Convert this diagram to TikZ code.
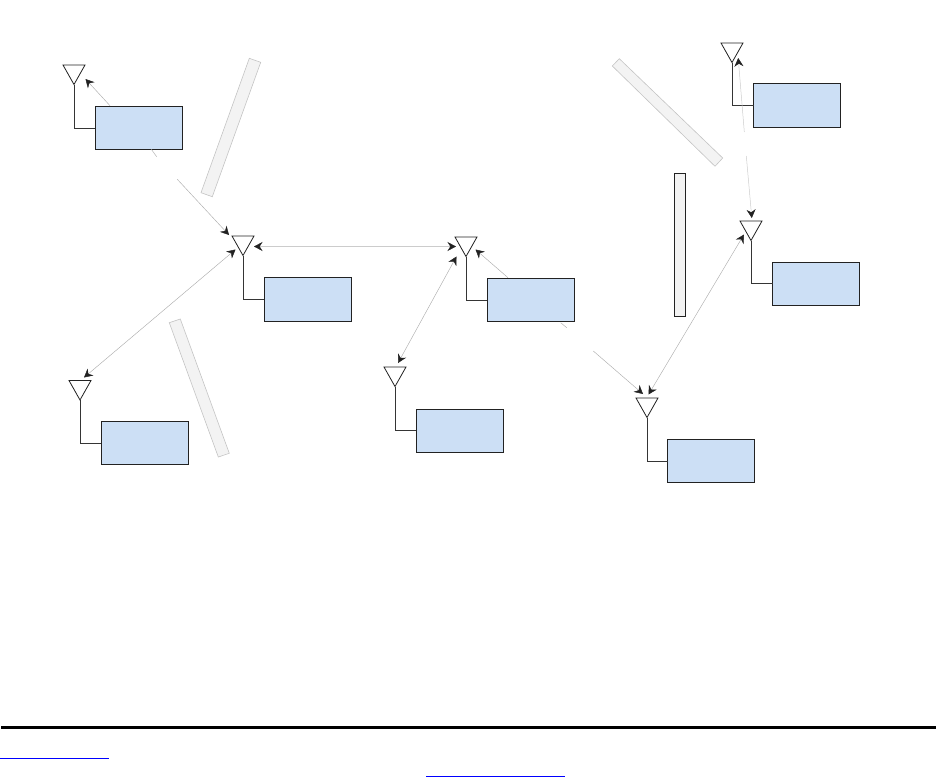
\documentclass[tikz,border=0pt]{standalone}
\usetikzlibrary{arrows.meta}
\definecolor{boxfill}{HTML}{CCDFF5}
\definecolor{wallfill}{HTML}{F3F3F3}
\definecolor{wallline}{HTML}{C4C4C4}
\definecolor{inkline}{HTML}{222222}
\definecolor{linkblue}{HTML}{0000FF}
\tikzset{
  radio/.style={draw=inkline,fill=boxfill,line width=0.8pt,minimum width=87pt,minimum height=43.5pt,inner sep=0pt,outer sep=0pt},
  ant/.style={draw=inkline,fill=white,line width=0.8pt,line join=miter},
  feed/.style={draw=inkline!80!gray,line width=0.8pt},
  wall/.style={draw=wallline,fill=wallfill,line width=0.6pt},
  wallb/.style={draw=inkline,fill=wallfill,line width=0.7pt},
  ray/.style={draw=black!32,line width=0.45pt},
  rayl/.style={draw=black!20,line width=0.5pt},
  tip/.tip={Stealth[inset=2.8pt,length=8.5pt,width=9pt,color=inkline]},
  hdr/.style={black,line width=3pt},
  lnk/.style={linkblue,line width=1pt}
}
\newcommand{\antenna}[4]{% name, apex x, apex y, box
  \coordinate (#1) at (#2,#3);
  \draw[feed] (#1) |- (#4.west);
  \draw[ant] (#1) -- ++(-11,-19.5) -- ++(22,0) -- cycle;
}
\begin{document}
\begin{tikzpicture}[x=1pt,y=-1pt]
\useasboundingbox (0,0) rectangle (936,777);
% walls
\draw[wall] (249.3,58.3) -- (260.7,62.3) -- (212.3,196.7) -- (201,192.7) -- cycle;
\draw[wall] (169.3,322.7) -- (180.3,319) -- (229.3,453.3) -- (218.3,457) -- cycle;
\draw[wall] (619.3,58.7) -- (612.3,66) -- (715,166.3) -- (722.7,158) -- cycle;
\draw[wallb] (674.3,173.3) rectangle (685.7,316.3);
% radios
\node[radio] (boxA) at (138.5,128) {};
\node[radio] (boxB) at (307.8,299.3) {};
\node[radio] (boxC) at (144.7,443) {};
\node[radio] (boxD) at (530.6,300) {};
\node[radio] (boxE) at (459.5,430.7) {};
\node[radio] (boxF) at (711.3,461) {};
\node[radio] (boxG) at (797,105.3) {};
\node[radio] (boxH) at (816,283.7) {};
% antennas
\antenna{antA}{74}{84.5}{boxA}
\antenna{antB}{243}{255.5}{boxB}
\antenna{antC}{80}{400}{boxC}
\antenna{antD}{466}{256.5}{boxD}
\antenna{antE}{395}{386.5}{boxE}
\antenna{antF}{647}{417.5}{boxF}
\antenna{antG}{732}{62.5}{boxG}
\antenna{antH}{751}{240.5}{boxH}
% ray end points
\coordinate (a1) at (85.5,79);   \coordinate (a1b) at (110,105.7);
\coordinate (a2) at (151.3,149.3); \coordinate (a3) at (156.7,156.7);
\coordinate (a4) at (177.3,179.3); \coordinate (a5) at (229,235);
\coordinate (b1) at (254,246.5); \coordinate (b2) at (456,246.5);
\coordinate (c1) at (235.5,249.5); \coordinate (c2) at (84,377.5);
\coordinate (d1) at (456.5,256.5); \coordinate (d2) at (398,363);
\coordinate (e1) at (475.5,249.5); \coordinate (e2) at (508,277.7);
\coordinate (e3) at (560.7,322.7); \coordinate (e4) at (566.7,327.7);
\coordinate (e5) at (593.3,351);   \coordinate (e6) at (643,394);
\coordinate (f1) at (648.5,394.5); \coordinate (f2) at (744,234.5);
\coordinate (g1) at (738.2,58);    \coordinate (g2) at (744.3,132);
\coordinate (g3) at (746.3,156);   \coordinate (g4) at (751.8,218);
% rays
\draw[ray,-tip] (a1b) -- (a1);
\draw[ray] (a2) -- (a3);
\draw[ray,-tip] (a4) -- (a5);
\draw[rayl,tip-tip] (b1) -- (b2);
\draw[ray,tip-tip] (c1) -- (c2);
\draw[ray,tip-tip] (d1) -- (d2);
\draw[ray,-tip] (e2) -- (e1);
\draw[ray] (e3) -- (e4);
\draw[ray,-tip] (e5) -- (e6);
\draw[ray,tip-tip] (f1) -- (f2);
\draw[rayl,-tip] (g2) -- (g1);
\draw[rayl,-tip] (g3) -- (g4);
% footer
\coordinate (r1) at (1,727.3); \coordinate (r2) at (936,727.3);
\draw[hdr] (r1) -- (r2);
\coordinate (l1) at (0,758.3); \coordinate (l2) at (109,758.3);
\draw[lnk] (l1) -- (l2);
\coordinate (l3) at (426,776.2); \coordinate (l4) at (565,776.2);
\draw[lnk] (l3) -- (l4);
\end{tikzpicture}
\end{document}
